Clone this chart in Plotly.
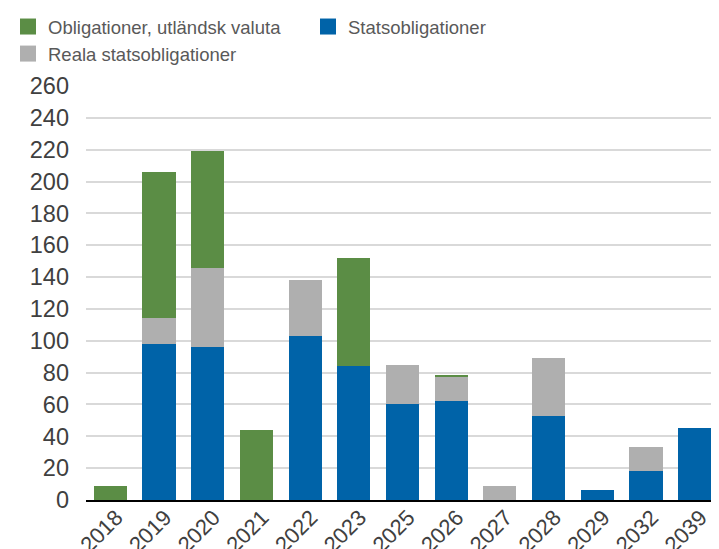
import plotly.graph_objects as go

years = ["2018", "2019", "2020", "2021", "2022", "2023", "2025", "2026", "2027", "2028", "2029", "2032", "2039"]
statsobligationer = [0, 98, 96, 0, 103, 84, 60, 62, 0, 53, 6, 18, 45]
reala = [0, 16, 50, 0, 35, 0, 25, 15, 9, 36, 0, 15, 0]
utlandsk = [9, 92, 73, 44, 0, 68, 0, 1.5, 0, 0, 0, 0, 0]

y_ticks = list(range(0, 261, 20))

GREEN = "#5B8D45"
BLUE = "#0063A8"
GRAY = "#AFAFAF"
FONT = "Liberation Sans, Arial, sans-serif"

fig = go.Figure()
series = [
    ("Statsobligationer", statsobligationer, BLUE, 2),
    ("Reala statsobligationer", reala, GRAY, 3),
    ("Obligationer, utländsk valuta", utlandsk, GREEN, 1),
]
for name, vals, col, rank in series:
    fig.add_trace(go.Bar(x=years, y=vals, name=name, marker_color=col,
                         marker_line_width=0, showlegend=False))
# legend entries with larger square markers
for name, vals, col, rank in series:
    fig.add_trace(go.Scatter(x=[None], y=[None], mode="markers", name=name,
                             marker=dict(symbol="square", size=22, color=col),
                             legendrank=rank, showlegend=True))

fig.update_layout(
    width=719, height=549,
    barmode="stack", bargap=0.32,
    plot_bgcolor="white", paper_bgcolor="white",
    margin=dict(l=78, r=8, t=78, b=57, autoexpand=False),
    font=dict(family=FONT, color="#404040"),
    legend=dict(orientation="h", xref="container", yref="container",
                x=-0.004, y=1.0, xanchor="left", yanchor="top",
                entrywidth=255, entrywidthmode="pixels",
                traceorder="normal",
                font=dict(size=18.5, color="#595959"),
                itemsizing="trace", tracegroupgap=0,
                bgcolor="rgba(0,0,0,0)"),
    xaxis=dict(type="category", tickangle=-45, tickfont=dict(size=22, color="#404040"),
               showline=True, linecolor="black", linewidth=2, ticks="",
               ticklabelstandoff=-6, ticklabelshift=6,
               showgrid=False, automargin=False),
    yaxis=dict(range=[0, 260], tickvals=y_ticks, tickfont=dict(size=23.5, color="#404040"),
               showgrid=True, gridcolor="#D9D9D9", gridwidth=2, zeroline=False,
               ticks="", ticklabelstandoff=16, fixedrange=True, automargin=False),
)

fig.write_html("out.html")
